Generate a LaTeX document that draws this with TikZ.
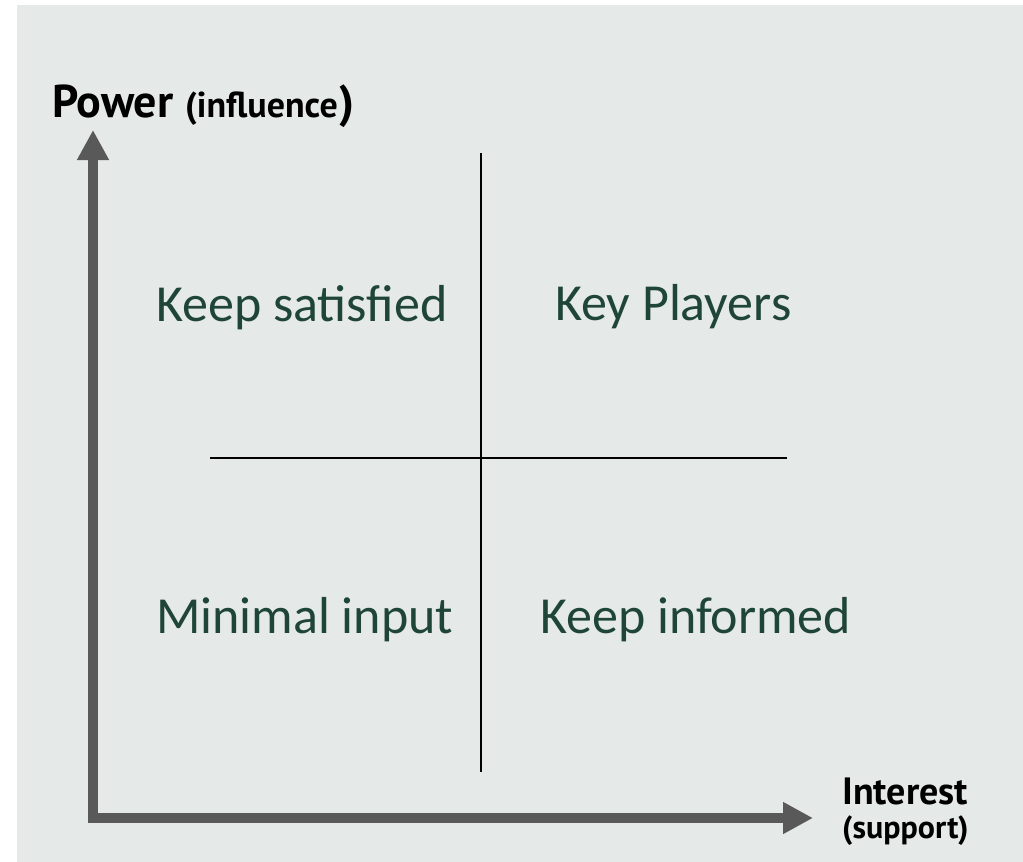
\documentclass[tikz,border=0pt]{standalone}
\usepackage{fontspec}
\setmainfont{Carlito}
\newfontfamily\axisfont{PT Sans}[BoldFont={* Bold}]
\usetikzlibrary{arrows.meta}
\definecolor{bggray}{RGB}{229,233,231}
\definecolor{axisgray}{RGB}{89,89,89}
\definecolor{quadgreen}{RGB}{31,68,56}
\tikzset{
  axisline/.style={draw=axisgray, line width=10pt, line join=miter,
    {Triangle[width=30pt,length=30pt]}-{Triangle[width=30pt,length=30pt]}},
  divider/.style={draw=black, line width=1.3pt},
  quadlabel/.style={anchor=base west, inner sep=0pt, text=quadgreen,
    font=\fontsize{52}{60}\selectfont},
  axislabel/.style={anchor=base west, inner sep=0pt, text=black}
}
\begin{document}
\begin{tikzpicture}[x=1pt,y=-1pt]
\fill[white] (0,0) rectangle (1023,862);
\fill[bggray] (17,5) rectangle (1023,862);
\useasboundingbox (0,0) rectangle (1023,862);
% axes
\coordinate (ytip) at (93,130);
\coordinate (origin) at (93,818);
\coordinate (xtip) at (813,818);
\draw[axisline] (ytip) -- (origin) -- (xtip);
% dividers
\coordinate (vtop) at (481,153);
\coordinate (vbot) at (481,772);
\coordinate (hleft) at (210,458);
\coordinate (hright) at (787,458);
\draw[divider] (vtop) -- (vbot);
\draw[divider] (hleft) -- (hright);
% quadrant labels
\node[quadlabel] (ks) at (156,321) {Keep satisfied};
\node[quadlabel] (kp) at (555,320) {Key Players};
\node[quadlabel] (mi) at (156,633) {Minimal input};
\node[quadlabel] (ki) at (540,633) {Keep informed};
% axis labels
\node[axislabel] (power) at (52,117) {\axisfont\bfseries\fontsize{46}{50}\selectfont Power {\fontsize{36}{40}\selectfont (influence}\kern1pt)};
\node[axislabel] (interest) at (842,804) {\axisfont\bfseries\fontsize{38}{42}\selectfont Interest};
\node[axislabel] (support) at (842,838) {\axisfont\bfseries\fontsize{32}{36}\selectfont (support)};
\end{tikzpicture}
\end{document}
